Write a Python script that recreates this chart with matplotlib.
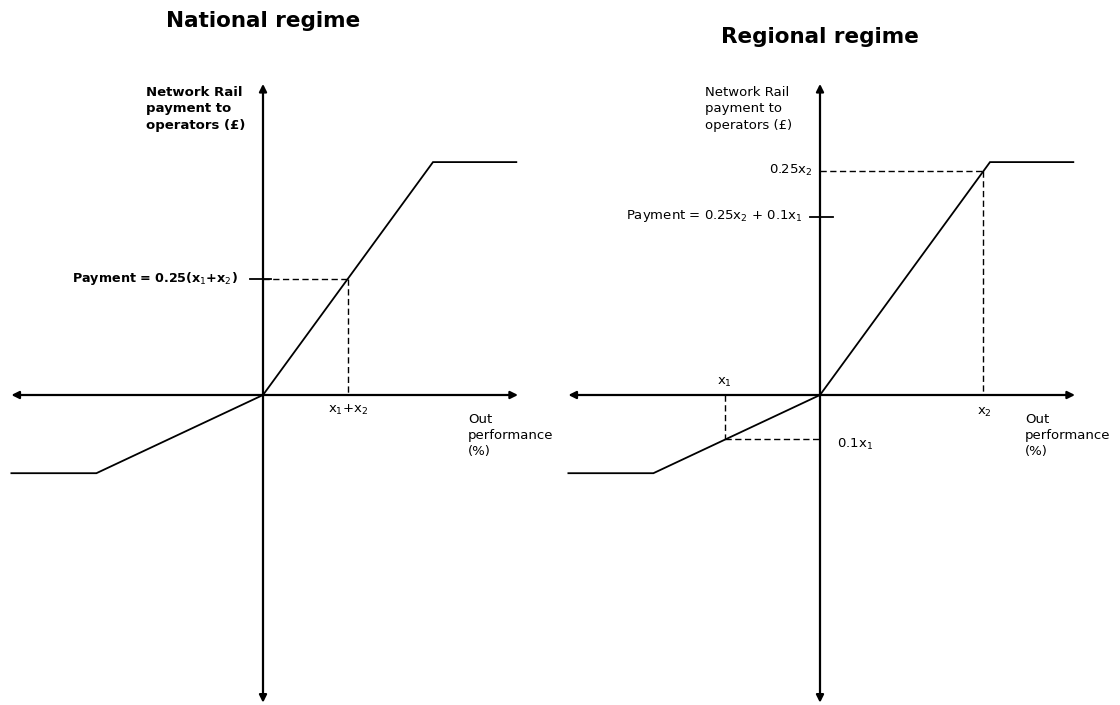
import matplotlib
matplotlib.use('Agg')
import matplotlib.pyplot as plt

# Payment curve (same shape for both regimes), x = out performance, y = payment
perf_x = [-148, -98, 0, 100, 149]
payment_y = [-46, -46, 0, 137, 137]

# axis extents
x_axis_ends = [-148, 150]
y_axis_ends = [-181, 183]

# marked points
national_x1x2 = 50
national_pay = 68.5
regional_x1 = -56
regional_pay_x1 = -26
regional_x2 = 96
regional_pay_x2 = 132
regional_payment_tick = 105

titles = ['National regime', 'Regional regime']
y_label = 'Network Rail\npayment to\noperators (£)'
x_label = 'Out\nperformance\n(%)'

PX = 1.7  # pixels per data unit

fig = plt.figure(figsize=(11.2, 7.05), dpi=100)
plt.rcParams['font.family'] = 'DejaVu Sans'


def make_panel(left_px, origin_px):
    ax = fig.add_axes([left_px / 1120, 0, 560 / 1120, 1])
    ax.set_xlim(-(origin_px - left_px) / PX, (left_px + 560 - origin_px) / PX)
    ax.set_ylim(-(705 - 395) / PX, 395 / PX)
    ax.axis('off')
    # axes arrows
    ax.annotate('', xy=(x_axis_ends[1], 0), xytext=(x_axis_ends[0], 0),
                arrowprops=dict(arrowstyle='<|-|>', mutation_scale=11, lw=1.6,
                                color='black', shrinkA=0, shrinkB=0))
    ax.annotate('', xy=(0, y_axis_ends[1]), xytext=(0, y_axis_ends[0]),
                arrowprops=dict(arrowstyle='<|-|>', mutation_scale=11, lw=1.6,
                                color='black', shrinkA=0, shrinkB=0))
    ax.plot(perf_x, payment_y, color='black', lw=1.3, solid_joinstyle='miter')
    return ax


dash = dict(color='black', lw=1.0, linestyle=(0, (4.5, 2.5)))

# National regime
ax1 = make_panel(0, 263)
ax1.text(0, 220, titles[0], ha='center', va='center', fontsize=15.5, fontweight='bold')
ax1.text(-69, 182, y_label, ha='left', va='top', fontsize=9.5, fontweight='bold',
         linespacing=1.35)
ax1.plot([0, national_x1x2], [national_pay, national_pay], **dash)
ax1.plot([national_x1x2, national_x1x2], [national_pay, 0], **dash)
ax1.plot([-7.6, 4.7], [national_pay, national_pay], color='black', lw=1.3)
ax1.text(-15, national_pay, r'Payment = 0.25(x$_1$+x$_2$)', ha='right', va='center',
         fontsize=9.2, fontweight='bold')
ax1.text(national_x1x2, -9, r'x$_1$+x$_2$', ha='center', va='center', fontsize=9.5)
ax1.text(120.6, -10.5, x_label, ha='left', va='top', fontsize=9.5, linespacing=1.3)

# Regional regime
ax2 = make_panel(560, 820)
ax2.text(0, 210.6, titles[1], ha='center', va='center', fontsize=15.5, fontweight='bold')
ax2.text(-67.6, 182, y_label, ha='left', va='top', fontsize=9.5, linespacing=1.35)
ax2.plot([0, regional_x2], [regional_pay_x2, regional_pay_x2], **dash)
ax2.plot([regional_x2, regional_x2], [regional_pay_x2, 0], **dash)
ax2.plot([regional_x1, regional_x1], [0, regional_pay_x1], **dash)
ax2.plot([regional_x1, 0], [regional_pay_x1, regional_pay_x1], **dash)
ax2.plot([-6, 7.6], [regional_payment_tick, regional_payment_tick], color='black', lw=1.3)
ax2.text(-4.5, regional_pay_x2, r'0.25x$_2$', ha='right', va='center', fontsize=9.5)
ax2.text(-10, regional_payment_tick, r'Payment = 0.25x$_2$ + 0.1x$_1$', ha='right',
         va='center', fontsize=9.5)
ax2.text(regional_x1, 7.5, r'x$_1$', ha='center', va='center', fontsize=9.5)
ax2.text(10, -29, r'0.1x$_1$', ha='left', va='center', fontsize=9.5)
ax2.text(regional_x2 + 1, -10.5, r'x$_2$', ha='center', va='center', fontsize=9.5)
ax2.text(120.6, -10.5, x_label, ha='left', va='top', fontsize=9.5, linespacing=1.3)

fig.savefig('out.png', dpi=100)
